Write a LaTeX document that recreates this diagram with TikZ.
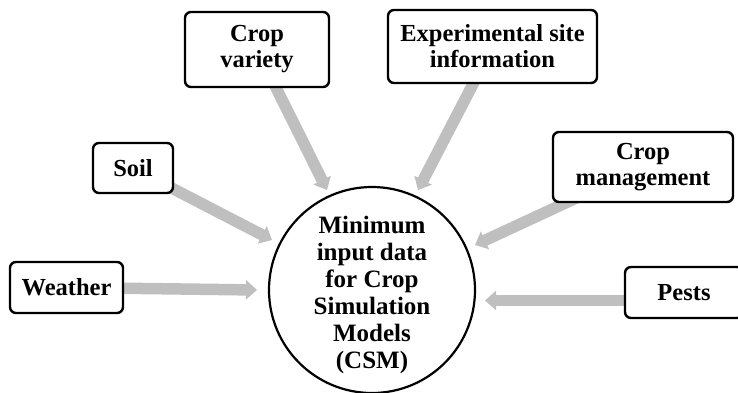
\documentclass[tikz,border=0pt]{standalone}
\usepackage{fontspec}
\setmainfont{Liberation Serif}
\usetikzlibrary{arrows.meta,calc,backgrounds}
\definecolor{feedgray}{RGB}{190,191,190}
\tikzset{
  inbox/.style={draw=black, line width=2.4pt, rounded corners=6pt, fill=white,
    align=center, inner sep=0pt, font=\fontsize{24.5}{26}\selectfont\bfseries},
  hub/.style={draw=black, line width=2.2pt, circle, fill=white, minimum size=206pt,
    inner sep=0pt},
  hubtext/.style={align=center, inner sep=0pt, font=\fontsize{25}{27}\selectfont\bfseries},
  feed/.style={draw=feedgray, line width=11.5pt,
    -{Triangle[length=11pt,width=19pt]}}
}
\begin{document}
\begin{tikzpicture}[x=1pt,y=-1pt]
  \path[use as bounding box, clip] (0,0) rectangle (738,393);

  % central hub, its text sitting slightly low in the circle
  \node[hub, label={[hubtext, yshift=-5pt]center:Minimum\\input data\\for Crop\\Simulation\\Models\\(CSM)}] (csm) at (372,290) {};

  % input boxes
  \node[inbox, minimum width=113pt, minimum height=51pt] (weather) at (66.5,287.5) {Weather};
  \node[inbox, minimum width=80pt, minimum height=50pt] (soil) at (133,168) {Soil};
  \node[inbox, minimum width=144pt, minimum height=75pt] (variety) at (257,49.5) {Crop\\variety};
  \node[inbox, minimum width=209pt, minimum height=73pt] (site) at (492.5,46.5) {Experimental site\\information};
  \node[inbox, minimum width=180pt, minimum height=70pt] (mgmt) at (643,167) {Crop\\management};
  \node[inbox, minimum width=118pt, minimum height=51pt] (pests) at (684,292.5) {Pests};

  % arrow tips, just short of the hub
  \coordinate (tWeather) at (257,290);
  \coordinate (tSoil) at (272,240);
  \coordinate (tVariety) at (327,190);
  \coordinate (tSite) at (418,190);
  \coordinate (tMgmt) at (475,245);
  \coordinate (tPests) at (485,300.5);

  % gray feed arrows, behind the boxes
  \begin{scope}[on background layer]
    \draw[feed] (weather.center) -- (tWeather);
    \draw[feed] (soil.center) -- (tSoil);
    \draw[feed] (variety.center) -- (tVariety);
    \draw[feed] (site.center) -- (tSite);
    \draw[feed] (mgmt.center) -- (tMgmt);
    \draw[feed] ($(pests.center)+(0,8)$) -- (tPests);
  \end{scope}
\end{tikzpicture}
\end{document}
